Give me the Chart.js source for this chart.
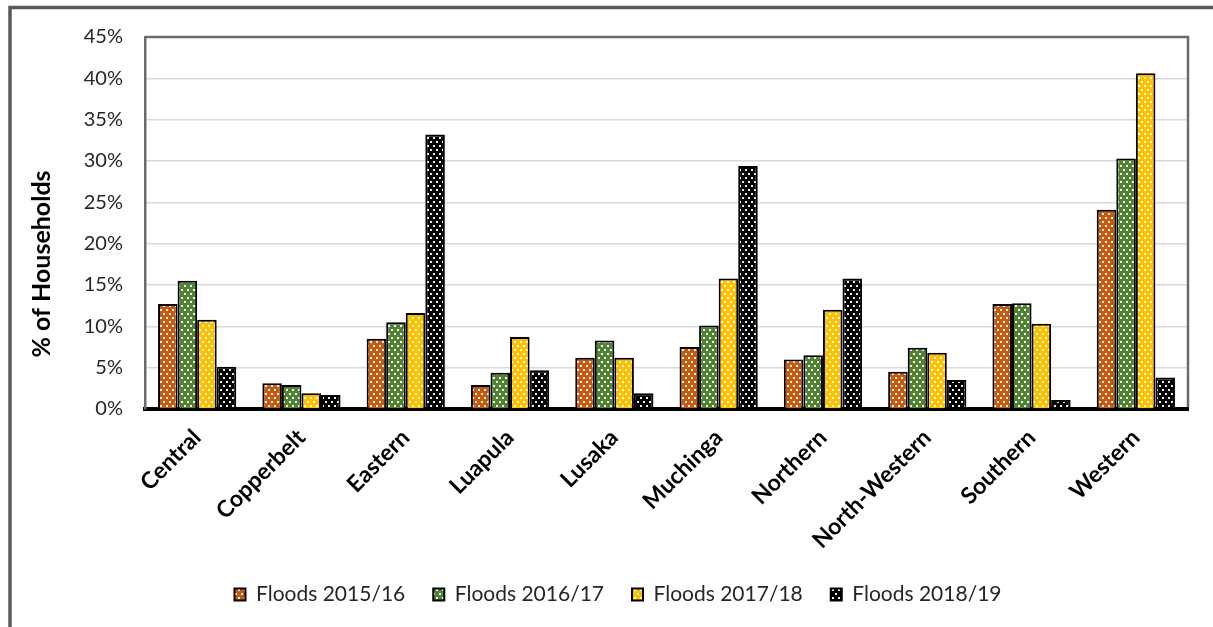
<!DOCTYPE html>
<html>
<head>
<meta charset="utf-8">
<script src="https://cdn.jsdelivr.net/npm/chart.js@4.4.1/dist/chart.umd.min.js"></script>
<style>
  html, body { margin: 0; padding: 0; background: #fff; }
  #wrap { width: 1213px; height: 627px; }
</style>
</head>
<body>
<div id="wrap"><canvas id="c" width="1213" height="627"></canvas></div>
<script>
// Share of households affected by floods, by province and season (%)
const provinces = ['Central', 'Copperbelt', 'Eastern', 'Luapula', 'Lusaka', 'Muchinga', 'Northern', 'North-Western', 'Southern', 'Western'];
const floods1516 = [12.7, 3.1, 8.5, 2.9, 6.2, 7.5, 6.0, 4.5, 12.7, 24.1];
const floods1617 = [15.5, 2.9, 10.5, 4.4, 8.3, 10.1, 6.5, 7.4, 12.8, 30.3];
const floods1718 = [10.8, 1.9, 11.6, 8.7, 6.2, 15.8, 12.0, 6.8, 10.3, 40.6];
const floods1819 = [5.1, 1.7, 33.2, 4.7, 1.9, 29.4, 15.8, 3.5, 1.1, 3.8];
const seriesNames = ['Floods 2015/16', 'Floods 2016/17', 'Floods 2017/18', 'Floods 2018/19'];
const seriesColors = ['#C55A11', '#548235', '#FFC000', '#000000'];
const yMin = 0, yMax = 45, yStep = 5;
const yTitle = '% of Households';

const canvas = document.getElementById('c');
const ctx = canvas.getContext('2d');

// small dotted fill, like a spreadsheet "dotted grid" pattern
function dotted(color) {
  const t = document.createElement('canvas');
  t.width = 6; t.height = 8;
  const g = t.getContext('2d');
  g.fillStyle = color;
  g.fillRect(0, 0, 6, 8);
  g.fillStyle = 'rgba(255,255,255,0.92)';
  g.fillRect(1, 1, 2, 2);
  g.fillRect(4, 5, 2, 2);
  return ctx.createPattern(t, 'repeat');
}

const values = [floods1516, floods1617, floods1718, floods1819];
const datasets = values.map((v, i) => ({
  label: seriesNames[i],
  data: v,
  backgroundColor: dotted(seriesColors[i]),
  borderColor: '#000',
  borderWidth: 2,
  borderSkipped: 'bottom',
  categoryPercentage: 0.75,
  barPercentage: 1.0
}));

const frame = {
  id: 'frame',
  beforeDraw(chart) {
    const c = chart.ctx;
    c.save();
    c.fillStyle = '#fff';
    c.fillRect(0, 0, chart.width, chart.height);
    c.restore();
  },
  afterDraw(chart) {
    const c = chart.ctx, a = chart.chartArea;
    c.save();
    // outer frame (left and top edges)
    c.strokeStyle = '#595959';
    c.lineWidth = 3.5;
    c.beginPath();
    c.moveTo(10, chart.height);
    c.lineTo(10, 7.5);
    c.lineTo(chart.width, 7.5);
    c.stroke();
    // plot area top and right edges
    c.lineWidth = 2.5;
    c.strokeStyle = '#6b6b6b';
    c.beginPath();
    c.moveTo(a.left, a.top);
    c.lineTo(a.right, a.top);
    c.lineTo(a.right, a.bottom - 2);
    c.stroke();
    // vertical axis title
    c.translate(42, 264);
    c.rotate(-Math.PI / 2);
    c.font = 'bold 25px Lato';
    c.fillStyle = '#000';
    c.textAlign = 'center';
    c.textBaseline = 'middle';
    c.fillText(yTitle, 0, 0);
    c.restore();
  }
};

new Chart(canvas, {
  type: 'bar',
  data: { labels: provinces, datasets },
  plugins: [frame],
  options: {
    responsive: false,
    animation: false,
    layout: { padding: { top: 37, right: 25, left: 48, bottom: 12 } },
    scales: {
      x: {
        grid: { display: false, drawTicks: false },
        border: { color: '#000', width: 4 },
        ticks: {
          minRotation: 45, maxRotation: 45, padding: 15,
          color: '#000',
          font: { family: 'Lato', size: 23, weight: 'bold' }
        },
        afterFit(s) { s.height = 147; }
      },
      y: {
        min: yMin, max: yMax,
        grid: { color: '#d9d9d9', lineWidth: 1.5, drawTicks: false },
        border: { color: '#6b6b6b', width: 2.5 },
        ticks: {
          stepSize: yStep, padding: 22,
          color: '#262626',
          font: { family: 'Lato', size: 20 },
          callback: v => v + '%'
        },
        afterFit(s) { s.width = 97; }
      }
    },
    plugins: {
      tooltip: { enabled: false },
      legend: {
        position: 'bottom',
        labels: {
          boxWidth: 11, boxHeight: 12, padding: 28,
          color: '#262626',
          font: { family: 'Lato', size: 21 }
        }
      }
    }
  }
});
</script>
</body>
</html>
